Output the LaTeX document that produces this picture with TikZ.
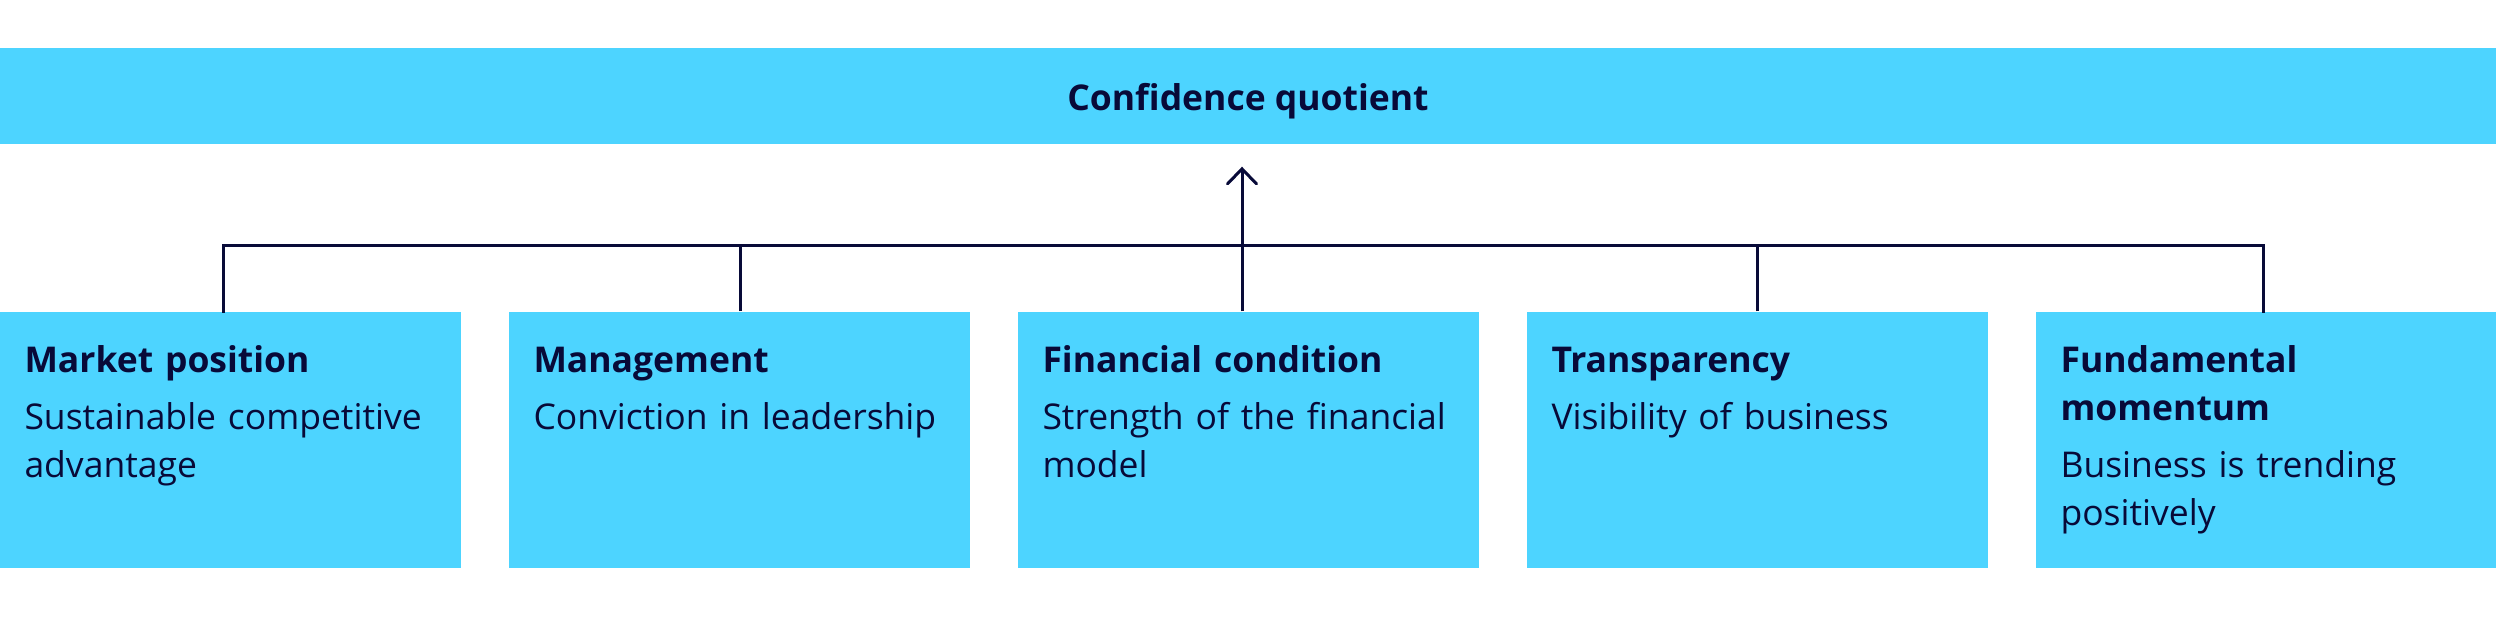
\documentclass[tikz,border=0pt]{standalone}
\usepackage{fontspec}
\setmainfont{Open Sans}
\usetikzlibrary{arrows.meta,positioning}
\definecolor{sky}{RGB}{77,212,255}
\definecolor{ink}{RGB}{8,10,56}
\tikzset{
	card/.style={fill=sky, draw=none, inner sep=0pt, minimum width=46.1mm, minimum height=25.6mm},
	cardtext/.style={anchor=base west, inner sep=0pt, text width=43mm, align=left, text=ink,
		font=\fontsize{10.1}{13.66}\selectfont},
	link/.style={draw=ink, line width=0.3mm}
}
\begin{document}
\begin{tikzpicture}[x=0.1mm, y=-0.1mm]
			%%%%% START %%%%%
			\useasboundingbox (0, 0) rectangle (2496, 616);
			
			\node[card, minimum width=249.6mm, minimum height=9.6mm] (cq) at (1248, 96) {};
			\node[anchor=base, inner sep=0pt, text=ink, font=\fontsize{10.1}{13.66}\selectfont\bfseries] (cq-t)
				at ([shift={(0, 14)}]cq.center) {Confidence quotient};
			
			\node[card] (mkt) at (230, 440) {};
			\node[card] (mgmt) at (739, 440) {};
			\node[card] (fin) at (1248, 440) {};
			\node[card] (transp) at (1757, 440) {};
			\node[card] (fund) at (2266, 440) {};
			
			\node[cardtext] (mkt-t) at ([shift={(25, 61)}]mkt.north west)
				{\textbf{Market position}\\[2.6pt] Sustainable competitive\\ advantage};
			\node[cardtext] (mgmt-t) at ([shift={(25, 61)}]mgmt.north west)
				{\textbf{Management}\\[2.6pt] Conviction in leadership};
			\node[cardtext] (fin-t) at ([shift={(25, 61)}]fin.north west)
				{\textbf{Financial condition}\\[2.6pt] Strength of the financial\\ model};
			\node[cardtext] (transp-t) at ([shift={(25, 61)}]transp.north west)
				{\textbf{Transparency}\\[2.6pt] Visibility of business};
			\node[cardtext] (fund-t) at ([shift={(25, 61)}]fund.north west)
				{\textbf{Fundamental}\\ \textbf{momentum}\\[2.6pt] Business is trending\\ positively};
			
			% feet of the connectors on the cards, and the bus
			\coordinate (mkt-in) at ([shift={(-7, 0)}]mkt.north);
			\coordinate (mgmt-in) at ([shift={(1, 0)}]mgmt.north);
			\coordinate (fin-in) at ([shift={(-6, 0)}]fin.north);
			\coordinate (transp-in) at (transp.north);
			\coordinate (fund-in) at ([shift={(-3, 0)}]fund.north);
			\coordinate (bus) at (0, 245);
			
			\draw[link, line cap=rect] (mkt-in) |- (fund-in |- bus) -- (fund-in);
			\draw[link] (mgmt-in) -- (mgmt-in |- bus);
			\draw[link] (transp-in) -- (transp-in |- bus);
			\draw[link, -{Straight Barb[length=1.5mm, width=2.9mm, line cap=round]}, shorten >=2.2mm]
				(fin-in) -- (fin-in |- cq.south);
			
			%%%%% END %%%%%
		\end{tikzpicture}
\end{document}
